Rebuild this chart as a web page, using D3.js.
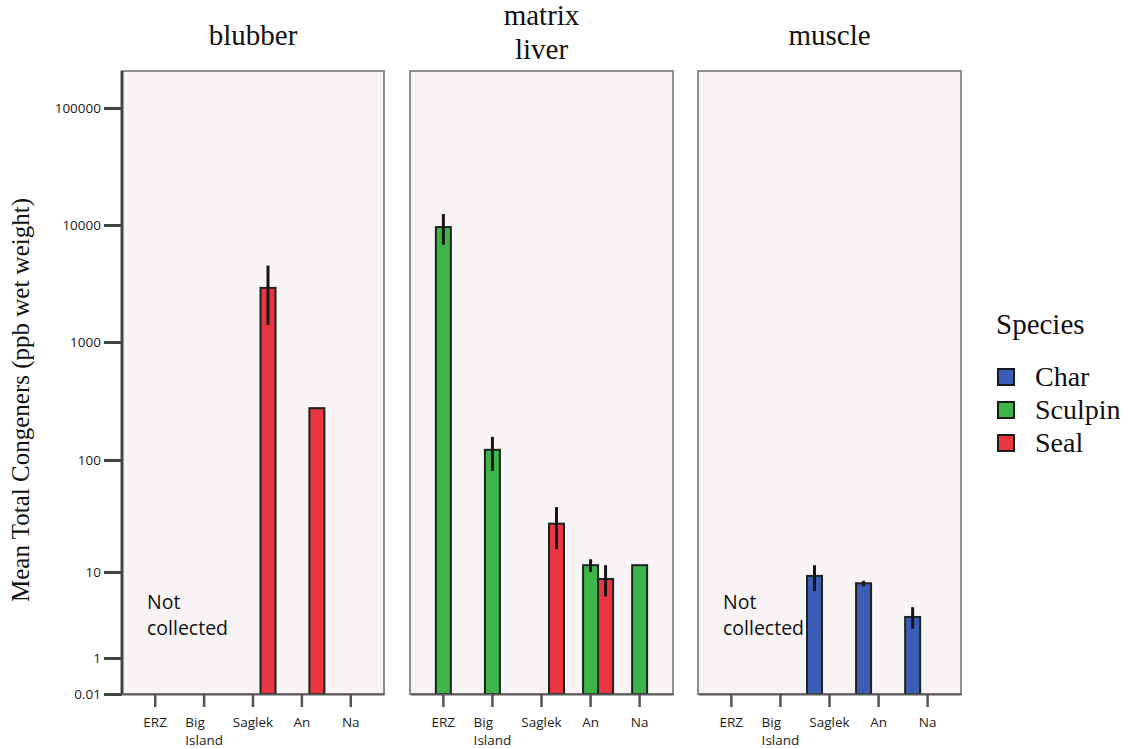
<!DOCTYPE html>
<html>
<head>
<meta charset="utf-8">
<script src="https://cdn.jsdelivr.net/npm/d3@7"></script>
<style>
  html, body { margin: 0; padding: 0; background: #ffffff; }
  svg { display: block; }
</style>
</head>
<body>
<svg id="chart" width="1128" height="749"></svg>
<script>
// Sites along the x axis of every tissue panel
const sites = ["ERZ", "Big Island", "Saglek", "An", "Na"];
const species = ["Char", "Sculpin", "Seal"];
const tissues = ["blubber", "liver", "muscle"];
const tissueTitles = [["blubber"], ["matrix", "liver"], ["muscle"]];
const speciesColors = ["#3b5db5", "#3db54a", "#e8353f"];

// Log-axis tick values and labels
const yTickValues = [0.01, 1, 10, 100, 1000, 10000, 100000];
const yTickLabels = ["0.01", "1", "10", "100", "1000", "10000", "100000"];

// One entry per bar: tissue, site, species, mean and error range (ppb wet weight)
const barTissue  = ["blubber", "blubber", "liver", "liver", "liver", "liver", "liver", "liver", "muscle", "muscle", "muscle"];
const barSite    = ["Saglek", "An", "ERZ", "Big Island", "Saglek", "An", "An", "Na", "Saglek", "An", "Na"];
const barSpecies = ["Seal", "Seal", "Sculpin", "Sculpin", "Seal", "Sculpin", "Seal", "Sculpin", "Char", "Char", "Char"];
const barMean    = [2900, 275, 9600, 122, 27, 11.5, 8.3, 11.5, 9.0, 7.4, 3.0];
const barLow     = [1400, null, 6800, 80, 16, 10, 5.2, null, 6.0, 6.8, 2.2];
const barHigh    = [4500, null, 12400, 157, 38, 13, 11.5, null, 11.5, 7.9, 3.9];

// Tissues without samples
const notCollected = ["blubber", "muscle"];

const svg = d3.select("#chart");

const plotTop = 71, plotBottom = 694;
const panelExtents = [[122, 384], [410, 673], [698, 961]];

// The published axis compresses the lowest decades; a piecewise log scale keeps that
const y = d3.scaleLog()
  .domain(yTickValues)
  .range([plotBottom, 658, 572, 460, 342, 225, 108]);

const speciesColor = d3.scaleOrdinal().domain(species).range(speciesColors);
const inner = d3.scaleBand().domain(species).range([-22.5, 22.5]).padding(0);

const bars = barMean.map((m, i) => ({
  tissue: barTissue[i], site: barSite[i], species: barSpecies[i],
  mean: m, low: barLow[i], high: barHigh[i]
}));

const serif = "'Liberation Serif', 'Times New Roman', serif";
const sans = "'Open Sans', sans-serif";

tissues.forEach((tissue, ti) => {
  const [x0, x1] = panelExtents[ti];
  const x = d3.scaleBand().domain(sites).range([x0, x1]).paddingInner(0).paddingOuter(0.18);
  const g = svg.append("g");

  // panel background and frame
  g.append("rect")
    .attr("x", x0).attr("y", plotTop)
    .attr("width", x1 - x0).attr("height", plotBottom - plotTop)
    .attr("fill", "#f8f3f5")
    .attr("stroke", "#8e8e8e").attr("stroke-width", 2);

  // bars
  const pb = bars.filter(b => b.tissue === tissue);
  g.selectAll("rect.bar").data(pb).join("rect")
    .attr("class", "bar")
    .attr("x", d => x(d.site) + x.bandwidth() / 2 + inner(d.species))
    .attr("width", inner.bandwidth())
    .attr("y", d => y(d.mean))
    .attr("height", d => y(0.01) - y(d.mean))
    .attr("fill", d => speciesColor(d.species))
    .attr("stroke", "#1c251c").attr("stroke-width", 2);

  // error bars
  g.selectAll("line.err").data(pb.filter(d => d.low != null)).join("line")
    .attr("class", "err")
    .attr("x1", d => x(d.site) + x.bandwidth() / 2 + inner(d.species) + inner.bandwidth() / 2)
    .attr("x2", d => x(d.site) + x.bandwidth() / 2 + inner(d.species) + inner.bandwidth() / 2)
    .attr("y1", d => y(d.low)).attr("y2", d => y(d.high))
    .attr("stroke", "#151515").attr("stroke-width", 3);

  // bottom axis
  const xAxis = g.append("g")
    .attr("transform", `translate(0,${plotBottom})`)
    .call(d3.axisBottom(x).tickSize(13).tickPadding(6).tickSizeOuter(0));
  xAxis.select(".domain").attr("stroke", "#5a5a5a").attr("stroke-width", 2);
  xAxis.selectAll(".tick line").attr("stroke", "#555").attr("stroke-width", 2.5);
  xAxis.selectAll(".tick text").remove();
  xAxis.selectAll(".tick").each(function(d) {
    const words = d.split(" ");
    const t = d3.select(this).append("text")
      .attr("fill", "#1e1e1e")
      .style("font-family", sans)
      .style("font-size", "13.5px")
      .attr("text-anchor", "start");
    words.forEach((w, k) => {
      t.append("tspan").attr("x", 0).attr("y", 33 + k * 18).text(w);
    });
    const w = t.node().getBBox().width;
    t.selectAll("tspan").attr("x", -w / 2);
  });

  if (notCollected.includes(tissue)) {
    const nc = g.append("text")
      .attr("fill", "#111")
      .style("font-family", sans)
      .style("font-size", "19.5px");
    nc.append("tspan").attr("x", x0 + 25).attr("y", 609).text("Not");
    nc.append("tspan").attr("x", x0 + 25).attr("y", 635).text("collected");
  }

  // panel title, one text per line
  const title = tissueTitles[ti];
  title.forEach((line, k) => {
    svg.append("text")
      .attr("text-anchor", "middle")
      .attr("fill", "#111")
      .style("font-family", serif)
      .style("font-size", "29px")
      .attr("x", (x0 + x1) / 2)
      .attr("y", title.length === 1 ? 45 : 25 + k * 34)
      .text(line);
  });
});

// left axis
const yAxis = svg.append("g")
  .attr("transform", `translate(${panelExtents[0][0]},0)`)
  .call(d3.axisLeft(y).tickValues(yTickValues).tickFormat((d, i) => yTickLabels[i])
    .tickSize(18).tickPadding(3).tickSizeOuter(0));
yAxis.select(".domain").attr("stroke", "#444").attr("stroke-width", 3)
  .attr("d", `M0,${plotTop}V${plotBottom}`);
yAxis.selectAll(".tick line").attr("stroke", "#444").attr("stroke-width", 3);
yAxis.selectAll(".tick text")
  .attr("fill", "#1a1a1a")
  .style("font-family", sans)
  .style("font-size", "13.5px");

// y title
svg.append("text")
  .attr("transform", `translate(29,${400}) rotate(-90)`)
  .attr("text-anchor", "middle")
  .attr("fill", "#111")
  .style("font-family", serif)
  .style("font-size", "25px")
  .text("Mean Total Congeners (ppb wet weight)");

// legend
const legend = svg.append("g");
legend.append("text")
  .attr("x", 996).attr("y", 334)
  .attr("fill", "#111")
  .style("font-family", serif)
  .style("font-size", "29px")
  .text("Species");
const rows = legend.selectAll("g.row").data(species).join("g")
  .attr("class", "row")
  .attr("transform", (d, i) => `translate(0,${377 + i * 33})`);
rows.append("rect")
  .attr("x", 998).attr("y", -8).attr("width", 16).attr("height", 16)
  .attr("fill", d => speciesColor(d))
  .attr("stroke", "#1a1a1a").attr("stroke-width", 2);
rows.append("text")
  .attr("x", 1035).attr("y", 9)
  .attr("fill", "#111")
  .style("font-family", serif)
  .style("font-size", "28px")
  .text(d => d);
</script>
</body>
</html>
